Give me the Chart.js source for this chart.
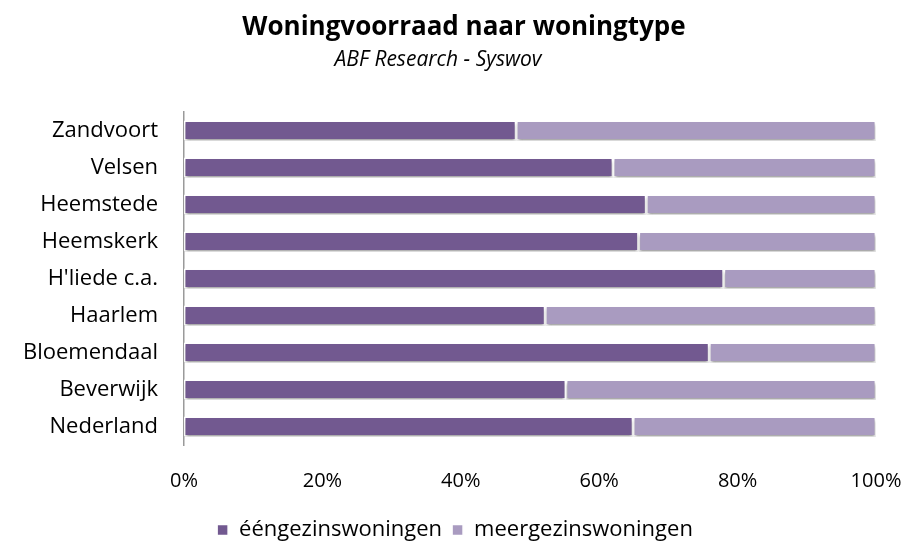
<!DOCTYPE html>
<html>
<head>
<meta charset="utf-8">
<script src="https://cdn.jsdelivr.net/npm/chart.js@4/dist/chart.umd.min.js"></script>
<style>
  html, body { margin: 0; padding: 0; background: #fff; }
  #wrap { width: 910px; height: 547px; position: relative; }
</style>
</head>
<body>
<div id="wrap"><canvas id="chart"></canvas></div>
<script>
// Woningvoorraad naar woningtype — aandeel per gemeente (procenten, som = 100)
const GEMEENTEN = ["Zandvoort", "Velsen", "Heemstede", "Heemskerk", "H'liede c.a.", "Haarlem", "Bloemendaal", "Beverwijk", "Nederland"];
const EENGEZINS = [48.0, 62.0, 66.8, 65.7, 78.0, 52.2, 75.9, 55.2, 64.9];
const MEERGEZINS = [52.0, 38.0, 33.2, 34.3, 22.0, 47.8, 24.1, 44.8, 35.1];
const X_TICKS = [0, 20, 40, 60, 80, 100];

const DONKER = "#725990";
const LICHT = "#a99bc0";
const FONT = "'Open Sans', 'Noto Sans', sans-serif";

// Titel en bron staan in de bron als losse tekstvakken, niet exact gecentreerd.
const headings = {
  id: "headings",
  afterDraw(chart) {
    const c = chart.ctx;
    c.save();
    c.fillStyle = "#000";
    c.textAlign = "center";
    c.textBaseline = "alphabetic";
    c.font = "bold 26px " + FONT;
    c.fillText("Woningvoorraad naar woningtype", 464, 35);
    c.font = "italic 21px " + FONT;
    c.fillText("ABF Research - Syswov", 438, 66);
    c.restore();
  },
};

// Zachte schaduw onder de balken, zoals in het Excel-origineel.
const barShadow = {
  id: "barShadow",
  beforeDatasetsDraw(chart) {
    const c = chart.ctx;
    c.save();
    c.shadowColor = "rgba(0,0,0,0.35)";
    c.shadowBlur = 3;
    c.shadowOffsetX = 0;
    c.shadowOffsetY = 3;
  },
  afterDatasetsDraw(chart) {
    chart.ctx.restore();
  },
};

new Chart(document.getElementById("chart"), {
  type: "bar",
  data: {
    labels: GEMEENTEN,
    datasets: [
      { label: "ééngezinswoningen", data: EENGEZINS, backgroundColor: DONKER, borderColor: "#ffffff", borderWidth: 1.5, borderSkipped: false },
      { label: "meergezinswoningen", data: MEERGEZINS, backgroundColor: LICHT, borderColor: "#ffffff", borderWidth: 1.5, borderSkipped: false },
    ],
  },
  options: {
    indexAxis: "y",
    responsive: true,
    maintainAspectRatio: false,
    animation: false,
    devicePixelRatio: 1,
    barPercentage: 0.54,
    categoryPercentage: 1,
    layout: { padding: { top: 112, right: 0, bottom: -4, left: 0 } },
    plugins: {
      legend: {
        position: "bottom",
        labels: { color: "#000", font: { family: FONT, size: 22 }, boxWidth: 11, boxHeight: 11, padding: 10 },
      },
      tooltip: { enabled: false },
    },
    scales: {
      x: {
        stacked: true,
        min: 0,
        max: 100,
        afterBuildTicks: (axis) => { axis.ticks = X_TICKS.map((v) => ({ value: v })); },
        // rechterrand van het plotvlak vast op 100% = x 876
        afterFit: (axis) => { axis.paddingRight = 34; },
        ticks: { color: "#000", font: { family: FONT, size: 20 }, padding: 16, callback: (v) => v + "%" },
        grid: { display: false },
        border: { display: false },
      },
      y: {
        stacked: true,
        afterFit: (axis) => { axis.width = 184; },
        ticks: { color: "#000", font: { family: FONT, size: 22 }, padding: 18 },
        grid: { display: false },
        border: { display: true, color: "#9a9a9a", width: 1.5 },
      },
    },
  },
  plugins: [barShadow, headings],
});
</script>
</body>
</html>
